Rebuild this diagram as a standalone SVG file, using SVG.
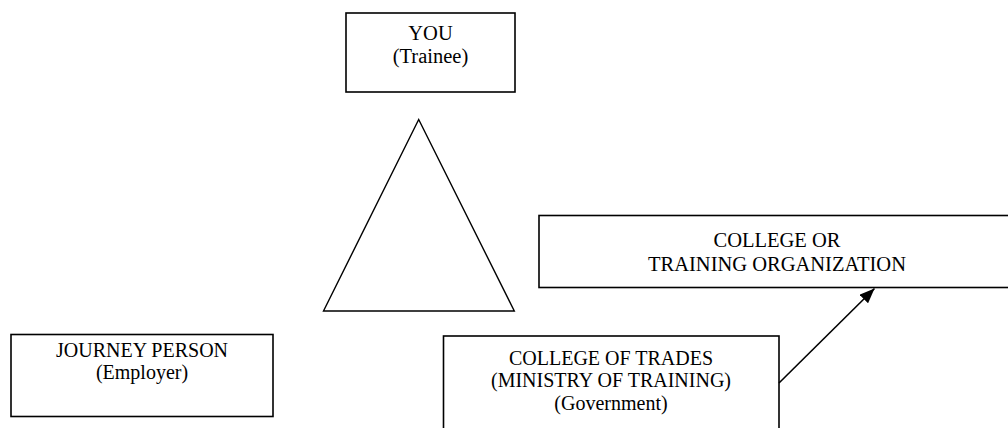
<svg xmlns="http://www.w3.org/2000/svg" width="1008" height="428" viewBox="0 0 1008 428">
<style>
.box{fill:#fff;stroke:#000;stroke-width:1.6}
.t{font-family:"Liberation Serif","Times New Roman",serif;font-size:20.5px;fill:#000;text-anchor:middle}
.tt{font-size:20px}
.shape{fill:none;stroke:#000;stroke-width:1.4}
.conn{fill:none;stroke:#000;stroke-width:1.6}
</style>
<defs>
<marker id="arr" markerWidth="15" markerHeight="12" refX="15" refY="6" orient="auto" markerUnits="userSpaceOnUse" viewBox="0 0 15 12">
<path d="M0,0 L15,6 L0,12 z" fill="#000"/>
</marker>
</defs>
<rect width="1008" height="428" fill="#fff"/>
<g id="you">
<rect class="box" x="346" y="13" width="169" height="79"/>
<text class="t" x="430.5" y="39.5">YOU</text>
<text class="t" x="430.5" y="62.5">(Trainee)</text>
</g>
<g id="triangle">
<polygon class="shape" points="418.7,119.5 323.5,311 514.3,311"/>
</g>
<g id="training">
<rect class="box" x="539" y="215.5" width="480" height="72"/>
<text class="t" x="777" y="246.5">COLLEGE OR</text>
<text class="t" x="777" y="270.5">TRAINING ORGANIZATION</text>
</g>
<g id="journey">
<rect class="box" x="11" y="334.5" width="262" height="82"/>
<text class="t tt" x="142" y="356.5">JOURNEY PERSON</text>
<text class="t tt" x="142" y="379">(Employer)</text>
</g>
<g id="trades">
<rect class="box" x="443.5" y="336" width="335.5" height="110"/>
<text class="t tt" x="611" y="364.5">COLLEGE OF TRADES</text>
<text class="t tt" x="611" y="387">(MINISTRY OF TRAINING)</text>
<text class="t tt" x="611" y="409.5">(Government)</text>
</g>
<g id="connectors">
<line class="conn" x1="779" y1="383" x2="874.5" y2="288.5" marker-end="url(#arr)"/>
</g>
</svg>
